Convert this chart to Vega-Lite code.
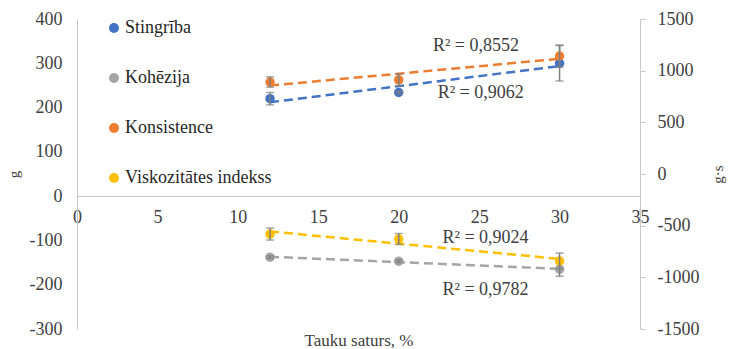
{
  "$schema": "https://vega.github.io/schema/vega-lite/v6.json",
  "width": 563,
  "height": 310,
  "autosize": {"type": "none"},
  "padding": {"left": 77, "top": 19, "right": 89, "bottom": 20},
  "background": "white",
  "datasets": {
    "ptsL": [
      {"series": "Stingrība", "x": 12, "y": 220, "lo": 206, "hi": 234},
      {"series": "Stingrība", "x": 20, "y": 234, "lo": 231, "hi": 237},
      {"series": "Stingrība", "x": 30, "y": 300, "lo": 260, "hi": 340},
      {"series": "Kohēzija", "x": 12, "y": -138, "lo": -141, "hi": -135},
      {"series": "Kohēzija", "x": 20, "y": -147, "lo": -150, "hi": -144},
      {"series": "Kohēzija", "x": 30, "y": -165, "lo": -181, "hi": -149}
    ],
    "ptsR": [
      {"series": "Konsistence", "x": 12, "y": 890, "lo": 840, "hi": 940},
      {"series": "Konsistence", "x": 20, "y": 910, "lo": 852, "hi": 968},
      {"series": "Konsistence", "x": 30, "y": 1142, "lo": 1036, "hi": 1248},
      {"series": "Viskozitātes indekss", "x": 12, "y": -581, "lo": -639, "hi": -523},
      {"series": "Viskozitātes indekss", "x": 20, "y": -629, "lo": -682, "hi": -576},
      {"series": "Viskozitātes indekss", "x": 30, "y": -842, "lo": -919, "hi": -765}
    ],
    "lbl": [
      {"x": 24.8, "y": 340, "label": "R² = 0,8552"},
      {"x": 25.1, "y": 234, "label": "R² = 0,9062"},
      {"x": 25.4, "y": -95, "label": "R² = 0,9024"},
      {"x": 25.4, "y": -212, "label": "R² = 0,9782"}
    ]
  },
  "config": {
    "view": {"stroke": null},
    "font": "Liberation Serif",
    "axis": {
      "grid": false,
      "ticks": false,
      "domainColor": "#C8C8C8",
      "domainWidth": 1,
      "labelFont": "Liberation Serif",
      "labelFontSize": 18,
      "labelColor": "#404040",
      "titleFont": "Liberation Serif",
      "titleFontWeight": "normal",
      "titleFontSize": 15,
      "titleColor": "#404040"
    }
  },
  "encoding": {
    "x": {
      "field": "x",
      "type": "quantitative",
      "scale": {"domain": [0, 35], "nice": false, "zero": false},
      "axis": {
        "values": [0, 5, 10, 15, 20, 25, 30, 35],
        "offset": -133,
        "labelPadding": 12,
        "labelFlush": false,
        "labelFont": "Liberation Serif",
        "labelFontSize": 18,
        "labelColor": "#404040",
        "labelExpr": "'' + datum.value",
        "title": "Tauku saturs, %",
        "titleFont": "Liberation Serif",
        "titleFontSize": 17,
        "titleY": 144,
        "titleBaseline": "middle"
      }
    }
  },
  "layer": [
    {
      "layer": [
        {
          "data": {"name": "ptsL"},
          "transform": [{"filter": "datum.series == 'Stingrība'"}, {"regression": "y", "on": "x"}],
          "mark": {"type": "line", "strokeDash": [9, 5], "strokeWidth": 2.5, "color": "#4472C4"},
          "encoding": {
            "y": {
              "field": "y", "type": "quantitative",
              "scale": {"domain": [-300, 400], "nice": false, "zero": false},
              "axis": {"orient": "left", "title": "g", "values": [-300, -200, -100, 0, 100, 200, 300, 400], "labelExpr": "'' + datum.value", "labelFont": "Liberation Serif", "labelFontSize": 18, "labelPadding": 15, "titleX": -64, "titleAngle": -90, "titleBaseline": "middle", "titleFont": "Liberation Serif"}
            }
          }
        },
        {
          "data": {"name": "ptsL"},
          "transform": [{"filter": "datum.series == 'Kohēzija'"}, {"regression": "y", "on": "x"}],
          "mark": {"type": "line", "strokeDash": [9, 5], "strokeWidth": 2.5, "color": "#A5A5A5"},
          "encoding": {
            "y": {
              "field": "y", "type": "quantitative",
              "axis": {"orient": "left", "title": "g", "values": [-300, -200, -100, 0, 100, 200, 300, 400], "labelExpr": "'' + datum.value", "labelFont": "Liberation Serif", "labelFontSize": 18, "labelPadding": 15, "titleX": -64, "titleAngle": -90, "titleBaseline": "middle", "titleFont": "Liberation Serif"}
            }
          }
        },
        {
          "data": {"name": "ptsL"},
          "mark": {"type": "point", "filled": true, "size": 90, "opacity": 1},
          "encoding": {
            "y": {
              "field": "y", "type": "quantitative",
              "axis": {"orient": "left", "title": "g", "values": [-300, -200, -100, 0, 100, 200, 300, 400], "labelExpr": "'' + datum.value", "labelFont": "Liberation Serif", "labelFontSize": 18, "labelPadding": 15, "titleX": -64, "titleAngle": -90, "titleBaseline": "middle", "titleFont": "Liberation Serif"}
            },
            "color": {
              "field": "series", "type": "nominal",
              "scale": {"domain": ["Stingrība", "Kohēzija", "Konsistence", "Viskozitātes indekss"], "range": ["#4472C4", "#A5A5A5", "#ED7D31", "#FFC000"]},
              "legend": {"title": null, "orient": "none", "legendX": 28, "legendY": 0, "direction": "vertical", "labelFont": "Liberation Serif", "labelFontSize": 18, "labelColor": "#262626", "symbolType": "circle", "symbolSize": 100, "symbolStrokeWidth": 0, "rowPadding": 32, "labelOffset": 2, "padding": 0}
            }
          }
        },
        {
          "data": {"name": "ptsL"},
          "mark": {"type": "rule", "color": "#7F7F7F", "strokeWidth": 1.5},
          "encoding": {
            "y": {
              "field": "lo", "type": "quantitative",
              "axis": {"orient": "left", "title": "g", "values": [-300, -200, -100, 0, 100, 200, 300, 400], "labelExpr": "'' + datum.value", "labelFont": "Liberation Serif", "labelFontSize": 18, "labelPadding": 15, "titleX": -64, "titleAngle": -90, "titleBaseline": "middle", "titleFont": "Liberation Serif"}
            },
            "y2": {"field": "hi"}
          }
        },
        {
          "data": {"name": "ptsL"},
          "mark": {"type": "tick", "orient": "horizontal", "color": "#7F7F7F", "size": 8, "thickness": 1.5},
          "encoding": {
            "y": {
              "field": "lo", "type": "quantitative",
              "axis": {"orient": "left", "title": "g", "values": [-300, -200, -100, 0, 100, 200, 300, 400], "labelExpr": "'' + datum.value", "labelFont": "Liberation Serif", "labelFontSize": 18, "labelPadding": 15, "titleX": -64, "titleAngle": -90, "titleBaseline": "middle", "titleFont": "Liberation Serif"}
            }
          }
        },
        {
          "data": {"name": "ptsL"},
          "mark": {"type": "tick", "orient": "horizontal", "color": "#7F7F7F", "size": 8, "thickness": 1.5},
          "encoding": {
            "y": {
              "field": "hi", "type": "quantitative",
              "axis": {"orient": "left", "title": "g", "values": [-300, -200, -100, 0, 100, 200, 300, 400], "labelExpr": "'' + datum.value", "labelFont": "Liberation Serif", "labelFontSize": 18, "labelPadding": 15, "titleX": -64, "titleAngle": -90, "titleBaseline": "middle", "titleFont": "Liberation Serif"}
            }
          }
        },
        {
          "data": {"name": "lbl"},
          "mark": {"type": "text", "font": "Liberation Serif", "fontSize": 18, "color": "#404040"},
          "encoding": {
            "y": {
              "field": "y", "type": "quantitative",
              "axis": {"orient": "left", "title": "g", "values": [-300, -200, -100, 0, 100, 200, 300, 400], "labelExpr": "'' + datum.value", "labelFont": "Liberation Serif", "labelFontSize": 18, "labelPadding": 15, "titleX": -64, "titleAngle": -90, "titleBaseline": "middle", "titleFont": "Liberation Serif"}
            },
            "text": {"field": "label"}
          }
        }
      ]
    },
    {
      "layer": [
        {
          "data": {"name": "ptsR"},
          "transform": [{"filter": "datum.series == 'Konsistence'"}, {"regression": "y", "on": "x"}],
          "mark": {"type": "line", "strokeDash": [9, 5], "strokeWidth": 2.5, "color": "#ED7D31"},
          "encoding": {
            "y": {
              "field": "y", "type": "quantitative",
              "scale": {"domain": [-1500, 1500], "nice": false, "zero": false},
              "axis": {"orient": "right", "title": "g·s", "values": [-1500, -1000, -500, 0, 500, 1000, 1500], "labelExpr": "'' + datum.value", "labelFont": "Liberation Serif", "labelFontSize": 18, "ticks": true, "tickSize": 5, "tickColor": "#C8C8C8", "labelPadding": 12, "titleX": 77, "titleAngle": -90, "titleBaseline": "middle", "titleFont": "Liberation Serif"}
            }
          }
        },
        {
          "data": {"name": "ptsR"},
          "transform": [{"filter": "datum.series == 'Viskozitātes indekss'"}, {"regression": "y", "on": "x"}],
          "mark": {"type": "line", "strokeDash": [9, 5], "strokeWidth": 2.5, "color": "#FFC000"},
          "encoding": {
            "y": {
              "field": "y", "type": "quantitative",
              "axis": {"orient": "right", "title": "g·s", "values": [-1500, -1000, -500, 0, 500, 1000, 1500], "labelExpr": "'' + datum.value", "labelFont": "Liberation Serif", "labelFontSize": 18, "ticks": true, "tickSize": 5, "tickColor": "#C8C8C8", "labelPadding": 12, "titleX": 77, "titleAngle": -90, "titleBaseline": "middle", "titleFont": "Liberation Serif"}
            }
          }
        },
        {
          "data": {"name": "ptsR"},
          "mark": {"type": "point", "filled": true, "size": 90, "opacity": 1},
          "encoding": {
            "y": {
              "field": "y", "type": "quantitative",
              "axis": {"orient": "right", "title": "g·s", "values": [-1500, -1000, -500, 0, 500, 1000, 1500], "labelExpr": "'' + datum.value", "labelFont": "Liberation Serif", "labelFontSize": 18, "ticks": true, "tickSize": 5, "tickColor": "#C8C8C8", "labelPadding": 12, "titleX": 77, "titleAngle": -90, "titleBaseline": "middle", "titleFont": "Liberation Serif"}
            },
            "color": {
              "field": "series", "type": "nominal",
              "scale": {"domain": ["Stingrība", "Kohēzija", "Konsistence", "Viskozitātes indekss"], "range": ["#4472C4", "#A5A5A5", "#ED7D31", "#FFC000"]},
              "legend": {"title": null, "orient": "none", "legendX": 28, "legendY": 0, "direction": "vertical", "labelFont": "Liberation Serif", "labelFontSize": 18, "labelColor": "#262626", "symbolType": "circle", "symbolSize": 100, "symbolStrokeWidth": 0, "rowPadding": 32, "labelOffset": 2, "padding": 0}
            }
          }
        },
        {
          "data": {"name": "ptsR"},
          "mark": {"type": "rule", "color": "#7F7F7F", "strokeWidth": 1.5},
          "encoding": {
            "y": {
              "field": "lo", "type": "quantitative",
              "axis": {"orient": "right", "title": "g·s", "values": [-1500, -1000, -500, 0, 500, 1000, 1500], "labelExpr": "'' + datum.value", "labelFont": "Liberation Serif", "labelFontSize": 18, "ticks": true, "tickSize": 5, "tickColor": "#C8C8C8", "labelPadding": 12, "titleX": 77, "titleAngle": -90, "titleBaseline": "middle", "titleFont": "Liberation Serif"}
            },
            "y2": {"field": "hi"}
          }
        },
        {
          "data": {"name": "ptsR"},
          "mark": {"type": "tick", "orient": "horizontal", "color": "#7F7F7F", "size": 8, "thickness": 1.5},
          "encoding": {
            "y": {
              "field": "lo", "type": "quantitative",
              "axis": {"orient": "right", "title": "g·s", "values": [-1500, -1000, -500, 0, 500, 1000, 1500], "labelExpr": "'' + datum.value", "labelFont": "Liberation Serif", "labelFontSize": 18, "ticks": true, "tickSize": 5, "tickColor": "#C8C8C8", "labelPadding": 12, "titleX": 77, "titleAngle": -90, "titleBaseline": "middle", "titleFont": "Liberation Serif"}
            }
          }
        },
        {
          "data": {"name": "ptsR"},
          "mark": {"type": "tick", "orient": "horizontal", "color": "#7F7F7F", "size": 8, "thickness": 1.5},
          "encoding": {
            "y": {
              "field": "hi", "type": "quantitative",
              "axis": {"orient": "right", "title": "g·s", "values": [-1500, -1000, -500, 0, 500, 1000, 1500], "labelExpr": "'' + datum.value", "labelFont": "Liberation Serif", "labelFontSize": 18, "ticks": true, "tickSize": 5, "tickColor": "#C8C8C8", "labelPadding": 12, "titleX": 77, "titleAngle": -90, "titleBaseline": "middle", "titleFont": "Liberation Serif"}
            }
          }
        }
      ]
    }
  ],
  "resolve": {"scale": {"y": "independent"}}
}
